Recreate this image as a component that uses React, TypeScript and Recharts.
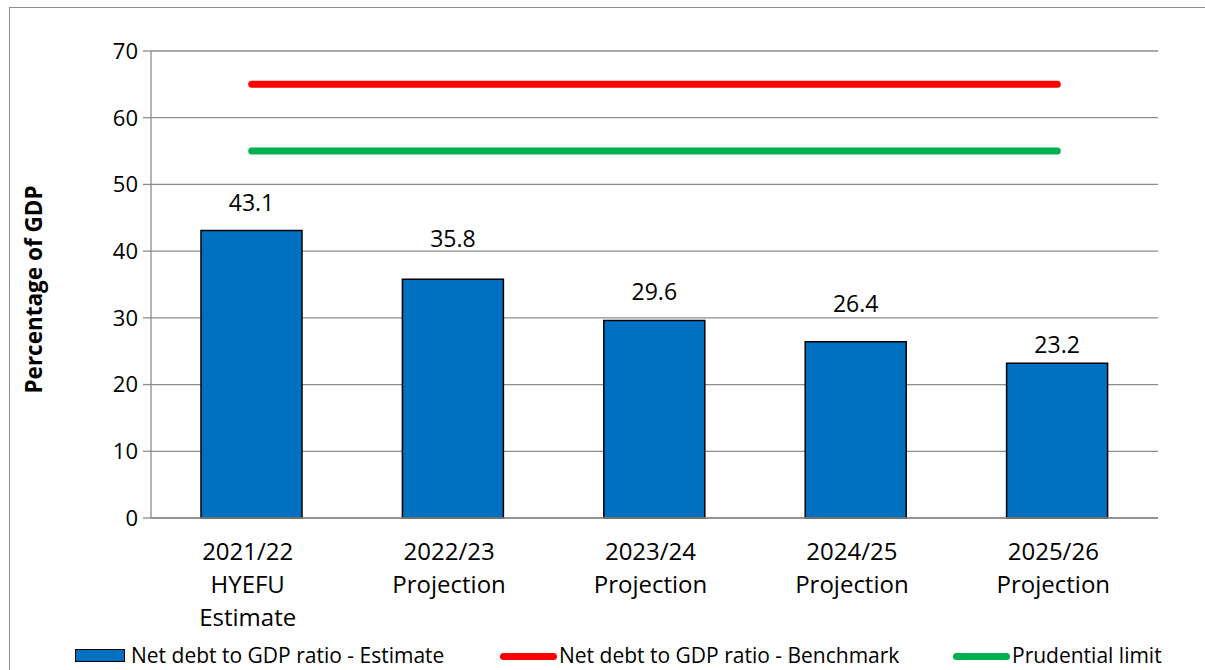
import React from 'react';
import { ComposedChart, Bar, Line, XAxis, YAxis, CartesianGrid, LabelList } from 'recharts';

const categories: string[][] = [
  ['2021/22', 'HYEFU', 'Estimate'],
  ['2022/23', 'Projection'],
  ['2023/24', 'Projection'],
  ['2024/25', 'Projection'],
  ['2025/26', 'Projection'],
];
const estimateValues = [43.1, 35.8, 29.6, 26.4, 23.2];
const benchmarkValues = [65, 65, 65, 65, 65];
const prudentialValues = [55, 55, 55, 55, 55];
const yTicks = [0, 10, 20, 30, 40, 50, 60, 70];
const seriesNames = [
  'Net debt to GDP ratio - Estimate',
  'Net debt to GDP ratio - Benchmark',
  'Prudential limit',
];
const seriesColors = ['#0070C0', '#FF0000', '#00B050'];
const yAxisTitle = 'Percentage of GDP';

// styling: gap (px) between each bar top and its value label baseline, as placed in the original
const labelGaps = [19, 32, 21, 30, 10];

const data = categories.map((c, i) => ({
  name: c.join('\n'),
  estimate: estimateValues[i],
  benchmark: benchmarkValues[i],
  prudential: prudentialValues[i],
}));

const FONT = '"Open Sans", "Liberation Sans", sans-serif';
const GRID = '#8C8C8C';

const XTick = (props: any) => {
  const { x, y, payload } = props;
  const lines = String(payload.value).split('\n');
  return (
    <text x={x - 4} y={y} textAnchor="middle" fontSize={24} fontFamily={FONT} fill="#000">
      {lines.map((l, i) => (
        <tspan key={i} x={x - 4} dy={i === 0 ? 42 : 33}>
          {l}
        </tspan>
      ))}
    </text>
  );
};

const YLabel = (props: any) => {
  const vb = props.viewBox || { y: 51, height: 467 };
  const cy = vb.y + vb.height / 2 + 5;
  return (
    <text
      x={33}
      y={cy}
      transform={`rotate(-90 33 ${cy})`}
      textAnchor="middle"
      dominantBaseline="central"
      fontSize={22.5}
      fontWeight="bold"
      fontFamily={FONT}
      fill="#000"
    >
      {yAxisTitle}
    </text>
  );
};

const ValueLabel = (props: any) => {
  const { x, y, width, value, index } = props;
  const gap = labelGaps[index] ?? 15;
  return (
    <text
      x={x + width / 2}
      y={y - gap}
      textAnchor="middle"
      fontSize={23}
      fontFamily={FONT}
      fill="#000"
    >
      {value}
    </text>
  );
};

const legendItems = [
  { name: seriesNames[0], color: seriesColors[0], type: 'box', iconX: 75, textX: 131 },
  { name: seriesNames[1], color: seriesColors[1], type: 'line', iconX: 500, textX: 559 },
  { name: seriesNames[2], color: seriesColors[2], type: 'line', iconX: 953, textX: 1012 },
];

export default function App() {
  return (
    <div
      style={{
        position: 'fixed',
        left: 0,
        top: 0,
        width: 1205,
        height: 670,
        overflow: 'hidden',
        background: '#fff',
        fontFamily: FONT,
      }}
    >
      <div
        style={{
          position: 'absolute',
          left: 9,
          top: 7,
          width: 1400,
          height: 900,
          border: '1px solid #8E8E8E',
        }}
      />
      <div style={{ position: 'absolute', left: 0, top: 0 }}>
        <ComposedChart
          width={1205}
          height={670}
          data={data}
          margin={{ top: 51, right: 47, left: 0, bottom: 52 }}
        >
          <CartesianGrid vertical={false} stroke={GRID} strokeWidth={1.3} />
          <XAxis
            dataKey="name"
            interval={0}
            tickLine={false}
            tickSize={0}
            tickMargin={0}
            height={100}
            axisLine={{ stroke: GRID, strokeWidth: 1.3 }}
            tick={<XTick />}
          />
          <YAxis
            width={151}
            domain={[0, 70]}
            ticks={yTicks}
            tickSize={8}
            tickMargin={5}
            axisLine={{ stroke: GRID, strokeWidth: 1.3 }}
            tickLine={{ stroke: GRID, strokeWidth: 1.3 }}
            tick={{ fontSize: 22, fill: '#000', fontFamily: FONT }}
            label={<YLabel />}
          />
          <Bar
            dataKey="estimate"
            name={seriesNames[0]}
            fill={seriesColors[0]}
            stroke="#000"
            strokeWidth={1.5}
            barSize={101}
            isAnimationActive={false}
          >
            <LabelList dataKey="estimate" content={<ValueLabel />} />
          </Bar>
          <Line
            type="linear"
            dataKey="benchmark"
            name={seriesNames[1]}
            stroke={seriesColors[1]}
            strokeWidth={7}
            strokeLinecap="round"
            dot={false}
            activeDot={false}
            isAnimationActive={false}
          />
          <Line
            type="linear"
            dataKey="prudential"
            name={seriesNames[2]}
            stroke={seriesColors[2]}
            strokeWidth={7}
            strokeLinecap="round"
            dot={false}
            activeDot={false}
            isAnimationActive={false}
          />
        </ComposedChart>
      </div>
      {legendItems.map((it) => (
        <div key={it.name}>
          {it.type === 'box' ? (
            <div
              style={{
                position: 'absolute',
                left: it.iconX,
                top: 649,
                width: 48,
                height: 11,
                background: it.color,
                border: '1.5px solid #000',
              }}
            />
          ) : (
            <div
              style={{
                position: 'absolute',
                left: it.iconX,
                top: 653,
                width: 57,
                height: 7,
                borderRadius: 4,
                background: it.color,
              }}
            />
          )}
          <div
            style={{
              position: 'absolute',
              left: it.textX,
              top: 641,
              fontSize: 21,
              lineHeight: '28px',
              color: '#000',
              whiteSpace: 'nowrap',
              fontFamily: FONT,
            }}
          >
            {it.name}
          </div>
        </div>
      ))}
    </div>
  );
}
